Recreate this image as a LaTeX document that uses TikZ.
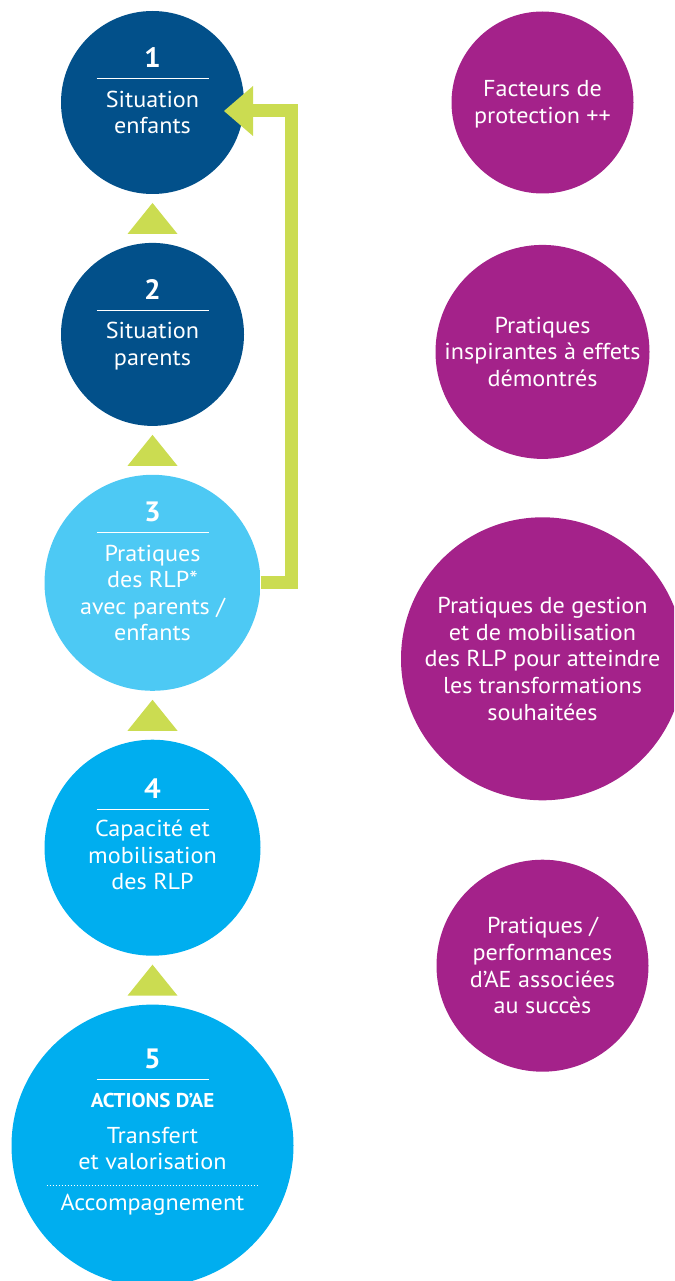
\documentclass[tikz,border=0pt]{standalone}
\usepackage{fontspec}
\setmainfont{PT Sans}[FakeStretch=1.05]
\usetikzlibrary{arrows.meta,calc,positioning}

\definecolor{bleufonce}{HTML}{02508A}
\definecolor{bleucyan}{HTML}{00AEEF}
\definecolor{clair}{HTML}{4DC9F4}
\definecolor{clairbord}{HTML}{349FD4}
\definecolor{violetae}{HTML}{A4228A}
\definecolor{vert}{HTML}{CBDC51}

\pgfdeclareradialshading{bleuclair}{\pgfpoint{0bp}{0bp}}{color(0bp)=(clair); color(32bp)=(clair); color(50bp)=(clairbord); color(100bp)=(clairbord)}

\begin{document}
\begin{tikzpicture}[x=1pt,y=-1pt,align=center,node distance=48.5pt]
\tikzstyle{rond}=[circle,inner sep=0pt,text=white]
\tikzstyle{rondfonce}=[rond,fill=bleufonce,minimum size=183pt]
\tikzstyle{rondclair}=[rond,shade,shading=bleuclair,minimum size=216pt]
\tikzstyle{rondcyan}=[rond,fill=bleucyan,minimum size=216pt]
\tikzstyle{rondviolet}=[rond,fill=violetae]
\tikzstyle{chiffre}=[inner sep=0pt,text=white,font=\fontsize{28}{28}\selectfont\bfseries]
\tikzstyle{texte}=[inner sep=0pt,text=white,font=\fontsize{23}{26.5}\selectfont]
\tikzstyle{textev}=[inner sep=0pt,text=white,font=\fontsize{23}{26.8}\selectfont]
\tikzstyle{titre}=[inner sep=0pt,text=white,font=\fontsize{20}{20}\selectfont\bfseries]
\tikzstyle{filet}=[white,line width=1pt]
\tikzstyle{fleche}=[fill=vert]
\tikzstyle{retour}=[draw=vert,line width=13pt,-{Triangle[length=29pt,width=50pt,line width=0pt]}]

\useasboundingbox (0,0) rectangle (674,1281);
\clip (0,0) rectangle (674,1281);

% colonne de gauche
\node[rondfonce] (c1) at (152.5,102.5) {};
\node[rondfonce] (c2) [below = of c1] {};
\node[rondclair] (c3) [below = of c2] {};
\node[rondcyan] (c4) [below = of c3] {};
\node[rondcyan,minimum size=282pt] (c5) [below = of c4] {};

% triangles entre les ronds
\fill[fleche] ($(c1.south)!.5!(c2.north)$) ++(0,-15.5) -- ++(25,31) -- ++(-50,0) -- cycle;
\fill[fleche] ($(c2.south)!.5!(c3.north)$) ++(0,-15.5) -- ++(25,31) -- ++(-50,0) -- cycle;
\fill[fleche] ($(c3.south)!.5!(c4.north)$) ++(0,-15.5) -- ++(25,31) -- ++(-50,0) -- cycle;
\fill[fleche] ($(c4.south)!.5!(c5.north)$) ++(0,-15.5) -- ++(25,31) -- ++(-50,0) -- cycle;

% retour de 3 vers 1
\coordinate (pointe) at ($(c1.center)+(71.5,8.5)$);
\draw[retour] (c3.east) -- ++(31,0) |- (pointe);

% textes
\coordinate (r1) at ($(c1.center)+(0,-23.5)$);
\draw[filet] ([xshift=-56pt]r1) -- ([xshift=56pt]r1);
\node[chiffre] (n1) [above = 11pt of r1] {1};
\node[texte] (t1) [below = 11.5pt of r1] {Situation\\enfants};

\coordinate (r2) at ($(c2.center)+(0,-23.5)$);
\draw[filet] ([xshift=-56pt]r2) -- ([xshift=56pt]r2);
\node[chiffre] (n2) [above = 11pt of r2] {2};
\node[texte] (t2) [below = 11.5pt of r2] {Situation\\parents};

\coordinate (r3) at ($(c3.center)+(0,-50)$);
\draw[filet] ([xshift=-56pt]r3) -- ([xshift=56pt]r3);
\node[chiffre] (n3) [above = 11pt of r3] {3};
\node[texte] (t3) [below = 12pt of r3] {Pratiques\\des RLP*\\avec parents /\\enfants};

\coordinate (r4) at ($(c4.center)+(0,-38)$);
\draw[filet] ([xshift=-56pt]r4) -- ([xshift=56pt]r4);
\node[chiffre] (n4) [above = 11pt of r4] {4};
\node[texte] (t4) [below = 10.5pt of r4] {Capacité et\\mobilisation\\des RLP};

\coordinate (r5) at ($(c5.center)+(0,-66)$);
\draw[filet] ([xshift=-56pt]r5) -- ([xshift=56pt]r5);
\node[chiffre] (n5) [above = 11pt of r5] {5};
\node[titre] (a5) [below = 13pt of r5] {ACTIONS D’AE};
\node[texte] (t5) [below = 19pt of a5] {Transfert\\et valorisation};
\coordinate (d5) at ($(c5.center)+(0,40)$);
\draw[filet,dotted] ([xshift=-106pt]d5) -- ([xshift=106pt]d5);
\node[texte] (m5) [below = 8pt of d5] {Accompagnement};

% colonne de droite
\node[rondviolet,minimum size=182pt] (p1) at (542.5,102.5) {};
\node[rondviolet,minimum size=214pt] (p2) [below = 51pt of p1] {};
\node[rondviolet,minimum size=283pt] (p3) [below = 58pt of p2] {};
\node[rondviolet,minimum size=212pt] (p4) [below = 59pt of p3] {};

\node[textev,yshift=-2pt] (q1) at (p1) {Facteurs de\\protection ++};
\node[textev] (q2) at (p2) {Pratiques\\inspirantes à effets\\démontrés};
\node[textev] (q3) at (p3) {Pratiques de gestion\\et de mobilisation\\des RLP pour atteindre\\les transformations\\souhaitées};
\node[textev] (q4) at (p4) {Pratiques /\\performances\\d’AE associées\\au succès};
\end{tikzpicture}
\end{document}
